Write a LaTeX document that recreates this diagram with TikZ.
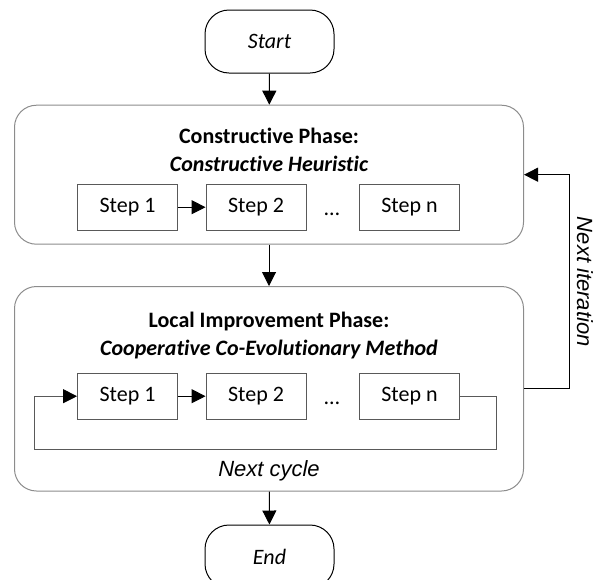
\documentclass[tikz,border=0pt]{standalone}
\usepackage{fontspec}
\setmainfont{Carlito}[Ligatures=NoCommon]
\newfontfamily\arialit{Liberation Sans}[ItalicFont=* Italic]
\usetikzlibrary{arrows.meta,calc}

\definecolor{phaseline}{HTML}{8C8C8C}
\definecolor{stepline}{HTML}{595959}

\tikzset{
  every node/.style={font=\fontsize{22}{26}\selectfont},
  terminal/.style={draw=black, line width=1pt, rounded corners=24pt,
    minimum width=129pt, minimum height=63pt, inner sep=0pt, font=\fontsize{22}{26}\selectfont\itshape},
  phase/.style={draw=phaseline, line width=1pt, rounded corners=22pt, inner sep=0pt},
  stepbox/.style={draw=stepline, line width=0.9pt, minimum width=100pt,
    minimum height=46pt, inner sep=0pt},
  flow/.style={line width=1pt, -{Triangle[length=14pt,width=14pt]}},
  loopline/.style={draw=stepline, line width=0.9pt, -{Triangle[length=14pt,width=14pt,color=black]}},
  title/.style={anchor=base, font=\fontsize{22}{26}\selectfont\bfseries},
  subtitle/.style={anchor=base, font=\fontsize{22}{26}\selectfont\bfseries\itshape},
  dotsnode/.style={anchor=base, inner sep=0pt},
  note/.style={font=\fontsize{22}{26}\selectfont\arialit\itshape},
}

\begin{document}
\begin{tikzpicture}[x=1pt, y=-1pt]
\useasboundingbox (0,0) rectangle (593,579);
\clip (0,0) rectangle (593,579);

% start and end terminals
\node[terminal] (start) at (269.5,41.5) {Start};
\node[terminal] (end) at (269.5,556.5) {End};

% constructive phase
\node[phase, minimum width=509pt, minimum height=139pt] (p1) at (269,174.7) {};
\node[title] (p1t) at (269,143) {Constructive Phase:};
\node[subtitle] (p1s) at (269,171) {Constructive Heuristic};
\node[stepbox] (a1) at (127.5,207.2) {Step 1};
\node[stepbox] (a2) at (256,207.2) {Step 2};
\node[stepbox] (an) at (409.5,207.2) {Step n};
\node[dotsnode] (adots) at (332,215) {…};

% local improvement phase
\node[phase, minimum width=509pt, minimum height=204.5pt] (p2) at (269,388.75) {};
\node[title] (p2t) at (269,327.5) {Local Improvement Phase:};
\node[subtitle] (p2s) at (269,355) {Cooperative Co-Evolutionary Method};
\node[stepbox] (b1) at (127.5,396.2) {Step 1};
\node[stepbox] (b2) at (256,396.2) {Step 2};
\node[stepbox] (bn) at (409.5,396.2) {Step n};
\node[dotsnode] (bdots) at (332,404) {…};
\node[note, anchor=base] (cyc) at (269,476.5) {Next cycle};

% main flow
\draw[flow] (start) -- (p1);
\draw[flow] (p1) -- (p2);
\draw[flow] (p2) -- (end);
\draw[flow] (a1) -- (a2);
\draw[flow] (b1) -- (b2);

% cycle inside the improvement phase
\draw[loopline] (bn.east) -- ++(36,0) -- ++(0,53) -| ($(b1.west)+(-43,0)$) -- (b1.west);

% iteration back to the constructive phase
\draw[flow] (p2.east) -- ++(45,0) coordinate (itr) |- (p1.east);
\node[note, rotate=-90, inner sep=0pt, anchor=base] (itlabel) at (577,281.7) {Next iteration};
\end{tikzpicture}
\end{document}
